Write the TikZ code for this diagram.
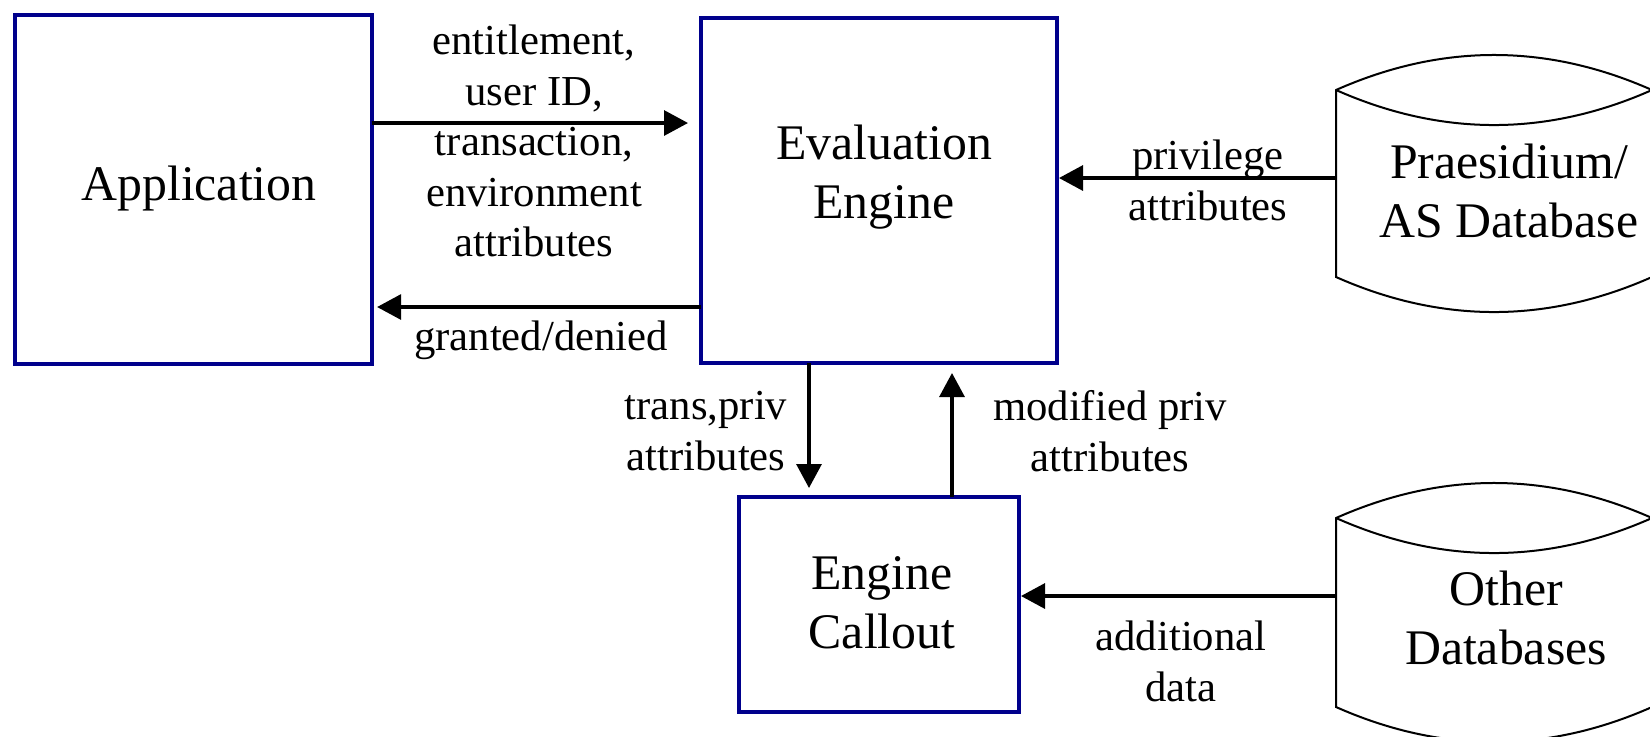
\documentclass[tikz,border=0pt]{standalone}
\usepackage{fontspec}
\setmainfont{Liberation Serif}
\usetikzlibrary{arrows.meta}
\definecolor{boxblue}{RGB}{0,0,140}
\tikzset{
  blockbox/.style={draw=boxblue, line width=2pt, fill=white, inner sep=0pt},
  bigtext/.style={inner sep=0pt, align=center, font=\fontsize{24.9pt}{29.5pt}\selectfont},
  labtext/.style={inner sep=0pt, align=center, font=\fontsize{21.35pt}{25.25pt}\selectfont},
  flow/.style={line width=1.6pt, -{Triangle[length=12pt,width=12.5pt]}},
  dbline/.style={draw=black, line width=1pt, fill=white},
}
\begin{document}
\begin{tikzpicture}[x=0.5pt, y=-0.5pt]
  \useasboundingbox (0,0) rectangle (1650,736);
  \begin{scope}
  \clip (0,0) rectangle (1650,736);

  % processing blocks
  \node[blockbox, minimum width=178.5pt, minimum height=174.5pt] (app) at (193,189.5) {};
  \node[blockbox, minimum width=178pt, minimum height=172.5pt] (eval) at (879,190.5) {};
  \node[blockbox, minimum width=140pt, minimum height=107.5pt] (callout) at (879,604.5) {};

  \node[bigtext] (app-txt) at (199,189) {Application};
  \node[bigtext] (eval-txt) at (884,177.5) {Evaluation\\Engine};
  \node[bigtext] (callout-txt) at (882,602.5) {Engine\\Callout};

  % database cylinders (lens-shaped ends, corners at x=1336 and x=1652)
  \foreach \top/\bot in {90/277, 518/707}{
    \path[dbline] (1336,\top) -- (1336,\bot)
      .. controls (1441.3,\bot+46.7) and (1546.7,\bot+46.7) .. (1652,\bot) -- (1652,\top)
      .. controls (1546.7,\top-46.7) and (1441.3,\top-46.7) .. (1336,\top) -- cycle;
    \draw[line width=1pt] (1336,\top)
      .. controls (1441.3,\top+46.7) and (1546.7,\top+46.7) .. (1652,\top);
  }
  \coordinate (praes-w) at (1336,178);
  \coordinate (other-w) at (1336,596);
  \node[bigtext] (praes-txt) at (1509,191) {Praesidium/\\AS Database};
  \node[bigtext] (other-txt) at (1506,617.5) {Other\\Databases};

  % connectors
  \coordinate (app-out) at (371.5,123);
  \coordinate (eval-ret) at (701,307);
  \coordinate (eval-down) at (809,363);
  \coordinate (callout-up) at (952,497);
  \draw[flow, shorten >=5.5pt] (app-out) -- (eval.west |- app-out);
  \draw[flow, shorten >=1.8pt] (eval-ret) -- (app.east |- eval-ret);
  \draw[flow] (praes-w) -- (eval.east |- praes-w);
  \draw[flow, shorten >=3.5pt] (eval-down) -- (callout.north -| eval-down);
  \draw[flow, shorten >=4pt] (callout-up) -- (eval.south -| callout-up);
  \draw[flow] (other-w) -- (callout.east |- other-w);

  % connector labels
  \node[labtext] (req-lbl) at (534,141) {entitlement,\\user ID,\\transaction,\\environment\\attributes};
  \node[labtext] (ret-lbl) at (541,340) {granted/denied};
  \node[labtext] (priv-lbl) at (1208,180.5) {privilege\\attributes};
  \node[labtext] (down-lbl) at (706,431) {trans,priv\\attributes};
  \node[labtext] (up-lbl) at (1110,431) {modified priv\\attributes};
  \node[labtext] (add-lbl) at (1181,661.5) {additional\\data};
  \end{scope}
\end{tikzpicture}
\end{document}
